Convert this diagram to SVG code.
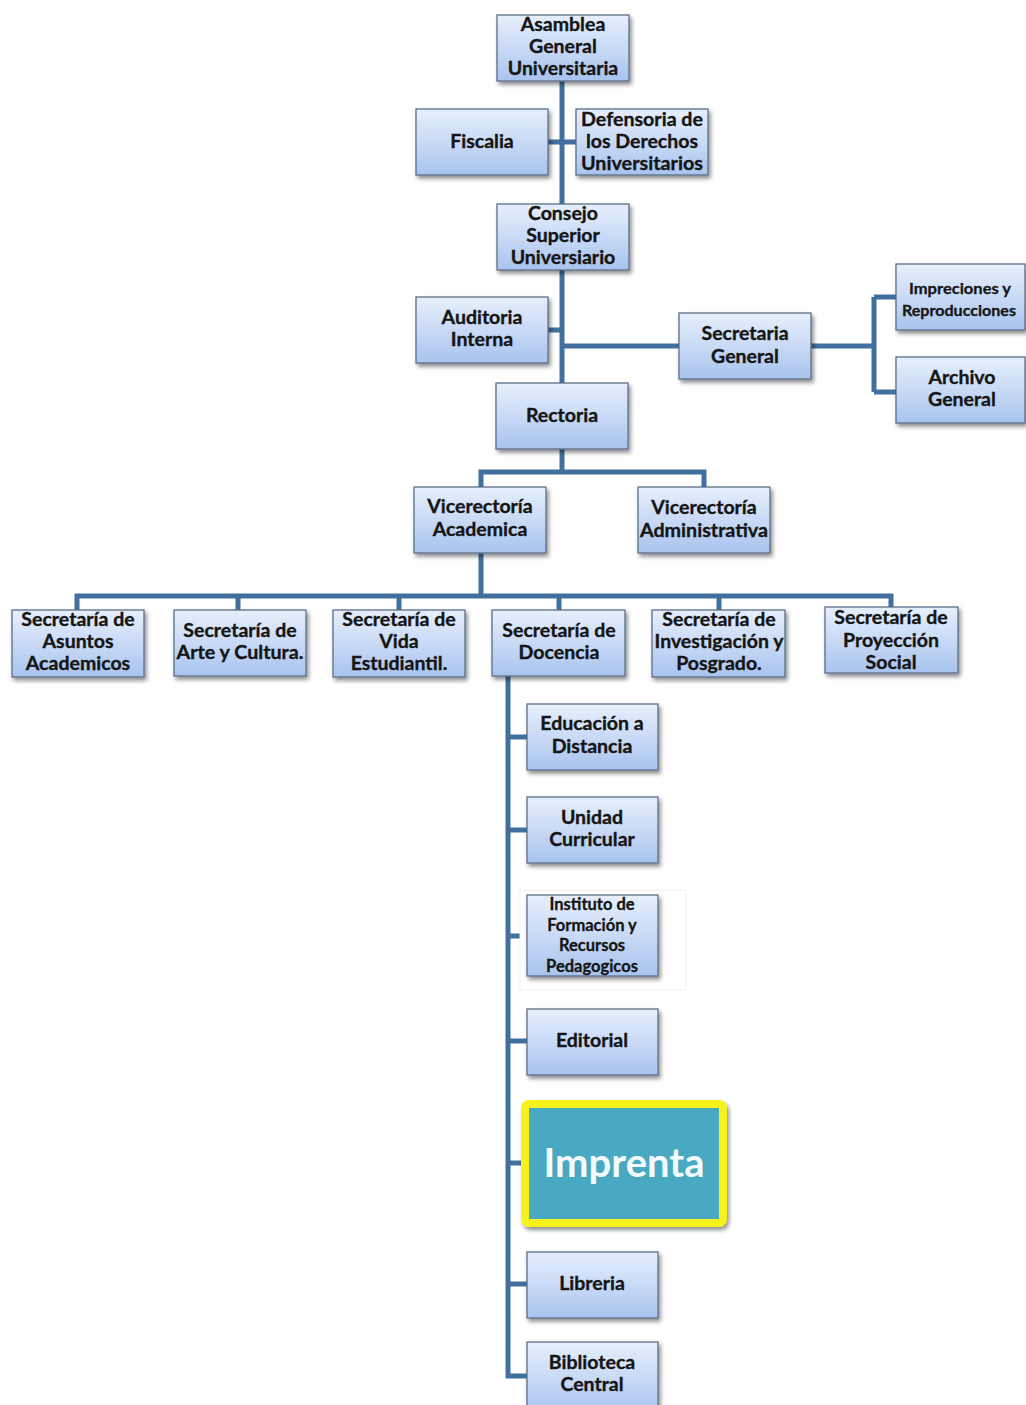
<svg xmlns="http://www.w3.org/2000/svg" width="1026" height="1405" viewBox="0 0 1026 1405">
<defs>
<linearGradient id="g" x1="0" y1="0" x2="0" y2="1">
<stop offset="0" stop-color="#e6effc"/>
<stop offset="0.5" stop-color="#c9daf6"/>
<stop offset="1" stop-color="#a7c3ee"/>
</linearGradient>
<filter id="sh" x="-10%" y="-10%" width="130%" height="130%">
<feDropShadow dx="2" dy="3" stdDeviation="2" flood-color="#000" flood-opacity="0.45"/>
</filter>
</defs>
<style>
.b{fill:url(#g);stroke:#5d6f86;stroke-width:1.3;filter:url(#sh)}
.t{font-family:Lato,"Open Sans","Liberation Sans",sans-serif;font-weight:bold;font-size:19.5px;fill:#151515;stroke:#151515;stroke-width:0.35;text-anchor:middle}
.s{font-family:Lato,"Open Sans","Liberation Sans",sans-serif;font-weight:bold;font-size:16px;fill:#151515;stroke:#151515;stroke-width:0.3;text-anchor:middle}
.n{font-family:Lato,"Liberation Sans",sans-serif;font-weight:bold;font-size:16.5px;fill:#151515;stroke:#151515;stroke-width:0.3;text-anchor:middle}
.c{fill:none;stroke:#41709e;stroke-width:5}
</style>
<rect width="1026" height="1405" fill="#fff"/>
<g id="connectors">
<path class="c" d="M562 81V204M562 270V383M548 142H576M548 330H562M562 346H679M811 346H874M874 297V392M874 297H896M874 392H896"/>
<path class="c" d="M562 449V472M481 487V472H704V487M481 553V596M77 610V596H891V607M238 596V610M399 596V610M559 596V610M719 596V610"/>
<path class="c" d="M508 676V1376H527M508 737H527M508 830H527M508 936H527M508 1041H527M508 1163H521M508 1284H527"/>
</g>
<g id="asamblea"><rect class="b" x="497" y="15" width="132" height="66"/>
<text class="t" x="563" y="31">Asamblea</text><text class="t" x="563" y="53">General</text><text class="t" x="563" y="75">Universitaria</text></g>
<g id="fiscalia"><rect class="b" x="416" y="109" width="132" height="66"/>
<text class="t" x="482" y="148">Fiscalia</text></g>
<g id="defensoria"><rect class="b" x="576" y="109" width="132" height="66"/>
<text class="t" x="642" y="126" textLength="122" lengthAdjust="spacingAndGlyphs">Defensoria de</text><text class="t" x="642" y="148">los Derechos</text><text class="t" x="642" y="170" textLength="122" lengthAdjust="spacingAndGlyphs">Universitarios</text></g>
<g id="consejo"><rect class="b" x="497" y="204" width="132" height="66"/>
<text class="t" x="563" y="220">Consejo</text><text class="t" x="563" y="242">Superior</text><text class="t" x="563" y="264">Universiario</text></g>
<g id="auditoria"><rect class="b" x="416" y="297" width="132" height="66"/>
<text class="t" x="482" y="324">Auditoria</text><text class="t" x="482" y="346">Interna</text></g>
<g id="secretaria-general"><rect class="b" x="679" y="313" width="132" height="66"/>
<text class="t" x="745" y="340">Secretaria</text><text class="t" x="745" y="363">General</text></g>
<g id="impreciones"><rect class="b" x="896" y="264" width="129" height="66"/>
<text class="s" x="960" y="294" textLength="102" lengthAdjust="spacingAndGlyphs">Impreciones y</text><text class="s" x="959" y="316" textLength="114" lengthAdjust="spacingAndGlyphs">Reproducciones</text></g>
<g id="archivo"><rect class="b" x="896" y="357" width="129" height="66"/>
<text class="t" x="962" y="384">Archivo</text><text class="t" x="962" y="406">General</text></g>
<g id="rectoria"><rect class="b" x="496" y="383" width="132" height="66"/>
<text class="t" x="562" y="422">Rectoria</text></g>
<g id="vice-academica"><rect class="b" x="414" y="487" width="132" height="66"/>
<text class="t" x="480" y="513">Vicerectoría</text><text class="t" x="480" y="536">Academica</text></g>
<g id="vice-administrativa"><rect class="b" x="638" y="487" width="132" height="66"/>
<text class="t" x="704" y="514">Vicerectoría</text><text class="t" x="704" y="537" textLength="128" lengthAdjust="spacingAndGlyphs">Administrativa</text></g>
<g id="asuntos"><rect class="b" x="12" y="610" width="132" height="67"/>
<text class="t" x="78" y="626">Secretaría de</text><text class="t" x="78" y="648">Asuntos</text><text class="t" x="78" y="670">Academicos</text></g>
<g id="arte"><rect class="b" x="174" y="610" width="132" height="66"/>
<text class="t" x="240" y="637">Secretaría de</text><text class="t" x="240" y="659" textLength="127" lengthAdjust="spacingAndGlyphs">Arte y Cultura.</text></g>
<g id="vida"><rect class="b" x="333" y="610" width="132" height="67"/>
<text class="t" x="399" y="626">Secretaría de</text><text class="t" x="399" y="648">Vida</text><text class="t" x="399" y="670">Estudiantil.</text></g>
<g id="docencia"><rect class="b" x="492" y="610" width="133" height="66"/>
<text class="t" x="559" y="637">Secretaría de</text><text class="t" x="559" y="659">Docencia</text></g>
<g id="investigacion"><rect class="b" x="652" y="610" width="133" height="67"/>
<text class="t" x="719" y="626">Secretaría de</text><text class="t" x="719" y="648" textLength="129" lengthAdjust="spacingAndGlyphs">Investigación y</text><text class="t" x="719" y="670">Posgrado.</text></g>
<g id="proyeccion"><rect class="b" x="825" y="607" width="133" height="66"/>
<text class="t" x="891" y="624">Secretaría de</text><text class="t" x="891" y="647">Proyección</text><text class="t" x="891" y="669">Social</text></g>
<g id="educacion"><rect class="b" x="527" y="704" width="131" height="66"/>
<text class="t" x="592" y="730">Educación a</text><text class="t" x="592" y="753">Distancia</text></g>
<g id="unidad"><rect class="b" x="527" y="797" width="131" height="66"/>
<text class="t" x="592" y="824">Unidad</text><text class="t" x="592" y="846">Curricular</text></g>
<g id="instituto"><rect x="520" y="890" width="166" height="100" fill="#fff" stroke="#f2f2f2"/>
<rect class="b" x="527" y="895" width="131" height="81"/>
<text class="n" x="592" y="910">Instituto de</text><text class="n" x="592" y="931">Formación y</text><text class="n" x="592" y="951">Recursos</text><text class="n" x="592" y="972">Pedagogicos</text></g>
<g id="editorial"><rect class="b" x="527" y="1009" width="131" height="66"/>
<text class="t" x="592" y="1047">Editorial</text></g>
<g id="imprenta"><rect x="525" y="1104" width="198" height="119" rx="4" fill="#4aa9c2" stroke="#f7f21a" stroke-width="8" filter="url(#sh)"/>
<text x="624" y="1177" font-family="Lato,'Open Sans','Liberation Sans',sans-serif" font-weight="bold" font-size="40" fill="#f4fbfd" text-anchor="middle">Imprenta</text></g>
<g id="libreria"><rect class="b" x="527" y="1252" width="131" height="66"/>
<text class="t" x="592" y="1290">Libreria</text></g>
<g id="biblioteca"><rect class="b" x="527" y="1342" width="131" height="72"/>
<text class="t" x="592" y="1369">Biblioteca</text><text class="t" x="592" y="1391">Central</text></g>
</svg>
